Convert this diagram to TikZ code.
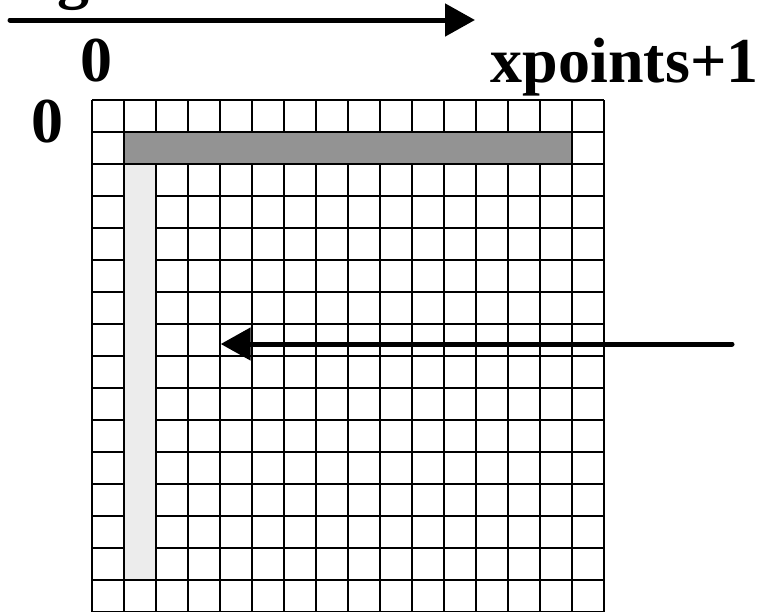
\documentclass[tikz,border=0pt]{standalone}
\usepackage{fontspec}
\setmainfont{Liberation Serif}
\usetikzlibrary{arrows.meta}

\definecolor{rowgray}{HTML}{939393}
\definecolor{colgray}{HTML}{ECECEC}

\tikzset{
  lbl/.style={inner sep=0pt,font=\fontsize{32}{37}\selectfont\bfseries},
  bigarrow/.style={line width=2.5pt,line cap=round,-{Triangle[length=15pt,width=16pt]}},
  cellline/.style={line width=0.85pt}
}

\begin{document}
\begin{tikzpicture}[x=0.5pt,y=-0.5pt]
    \useasboundingbox (0,0) rectangle (763,611);

    % Labels along the top and left
    \node[lbl,anchor=base] (g) at (73,-4) {g};
    \node[lbl,anchor=base] (xzero) at (96,81) {0};
    \node[lbl,anchor=base east] (xlast) at (759,82) {xpoints+1};
    \node[lbl,anchor=base] (yzero) at (48,142) {0};

    % Direction of the sweep
    \coordinate (topstart) at (10,20);
    \coordinate (topend) at (475,20);
    \draw[bigarrow] (topstart) -- (topend);

    % Mesh, one unit per cell
    \begin{scope}[shift={(92.3,100)},x=16pt,y=-16pt]
      \foreach \i in {0,...,16} {
        \draw[cellline] (\i,0) -- (\i,16.2);
      }
      \foreach \j in {0,...,16} {
        \draw[cellline] (0,\j) -- (16,\j);
      }

      % Shaded boundary row and column sit over the cells
      \filldraw[cellline,fill=rowgray] (1,1) rectangle (15,2);
      \filldraw[cellline,fill=colgray] (1,2) rectangle (2,15);
    \end{scope}

    % Arrow running back across the mesh
    \coordinate (sweepstart) at (732,344);
    \coordinate (sweepend) at (220.7,344);
    \draw[bigarrow] (sweepstart) -- (sweepend);
  \end{tikzpicture}
\end{document}
